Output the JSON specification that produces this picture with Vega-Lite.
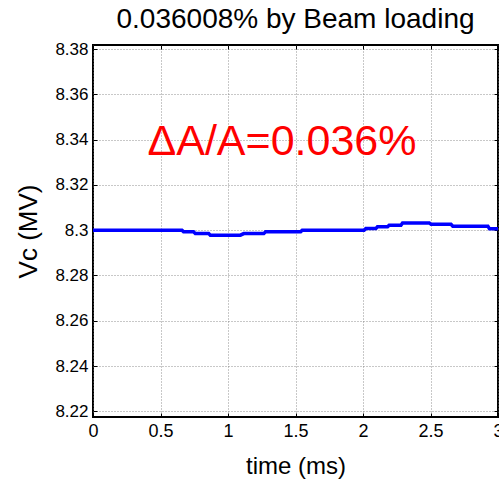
{
  "$schema": "https://vega.github.io/schema/vega-lite/v6.json",
  "width": 405,
  "height": 372,
  "autosize": {"type": "none"},
  "padding": {"left": 93, "top": 45, "right": 1, "bottom": 63},
  "background": "white",
  "title": {"text": "0.036008% by Beam loading", "fontSize": 28, "fontWeight": "normal", "font": "Liberation Sans", "color": "black", "anchor": "middle", "offset": 6},
  "config": {
    "view": {"stroke": "black", "strokeWidth": 2},
    "axis": {
      "labelFont": "Liberation Sans", "labelFontSize": 17, "labelColor": "black",
      "titleFont": "Liberation Sans", "titleFontSize": 24, "titleFontWeight": "normal", "titleColor": "black",
      "grid": true, "gridColor": "#777777", "gridDash": [1, 2], "gridWidth": 1, "gridOpacity": 0.8,
      "domain": false, "tickColor": "black", "tickSize": -4, "tickWidth": 1
    }
  },
  "datasets": {
    "vc": [
      {"t": 0.0, "v": 8.3000},
      {"t": 0.659, "v": 8.3000},
      {"t": 0.671, "v": 8.2993},
      {"t": 0.745, "v": 8.2993},
      {"t": 0.758, "v": 8.2985},
      {"t": 0.857, "v": 8.2985},
      {"t": 0.869, "v": 8.2978},
      {"t": 1.092, "v": 8.2978},
      {"t": 1.117, "v": 8.2985},
      {"t": 1.265, "v": 8.2985},
      {"t": 1.278, "v": 8.2993},
      {"t": 1.538, "v": 8.2993},
      {"t": 1.550, "v": 8.3000},
      {"t": 2.008, "v": 8.3000},
      {"t": 2.021, "v": 8.3007},
      {"t": 2.095, "v": 8.3007},
      {"t": 2.107, "v": 8.3015},
      {"t": 2.182, "v": 8.3015},
      {"t": 2.194, "v": 8.3022},
      {"t": 2.281, "v": 8.3022},
      {"t": 2.293, "v": 8.3032},
      {"t": 2.491, "v": 8.3032},
      {"t": 2.504, "v": 8.3026},
      {"t": 2.652, "v": 8.3026},
      {"t": 2.665, "v": 8.3018},
      {"t": 2.925, "v": 8.3018},
      {"t": 2.937, "v": 8.3006},
      {"t": 3.0, "v": 8.3006}
    ],
    "note": [{"t": 1.40, "v": 8.333, "label": "ΔA/A=0.036%"}]
  },
  "layer": [
    {
      "data": {"name": "vc"},
      "mark": {"type": "line", "color": "#0000FF", "strokeWidth": 3.5, "clip": true},
      "encoding": {
        "x": {"field": "t", "type": "quantitative", "scale": {"domain": [0, 3], "nice": false, "zero": false},
              "axis": {"orient": "bottom", "title": "time (ms)", "labelFontSize": 18, "values": [0, 0.5, 1, 1.5, 2, 2.5, 3], "format": "~g", "labelPadding": 9, "titlePadding": 14, "labelBound": false, "labelFlush": false}},
        "y": {"field": "v", "type": "quantitative", "scale": {"domain": [8.2175, 8.3818], "nice": false, "zero": false},
              "axis": {"orient": "left", "title": "Vc (MV)", "titleFontSize": 26, "values": [8.22, 8.24, 8.26, 8.28, 8.30, 8.32, 8.34, 8.36, 8.38], "format": ".2~f", "labelPadding": 9, "titlePadding": 13}}
      }
    },
    {
      "data": {"name": "vc"},
      "mark": {"type": "line", "opacity": 0},
      "encoding": {
        "x": {"field": "t", "type": "quantitative", "axis": {"orient": "top", "title": null, "labels": false, "grid": false, "values": [0, 0.5, 1, 1.5, 2, 2.5, 3]}},
        "y": {"field": "v", "type": "quantitative", "axis": {"orient": "right", "title": null, "labels": false, "grid": false, "values": [8.22, 8.24, 8.26, 8.28, 8.30, 8.32, 8.34, 8.36, 8.38]}}
      }
    },
    {
      "data": {"name": "note"},
      "mark": {"type": "text", "color": "#FF0000", "font": "Liberation Sans", "fontSize": 43, "align": "center", "baseline": "alphabetic"},
      "encoding": {
        "x": {"field": "t", "type": "quantitative", "axis": null},
        "y": {"field": "v", "type": "quantitative", "axis": null},
        "text": {"field": "label"}
      }
    }
  ],
  "resolve": {"axis": {"x": "independent", "y": "independent"}}
}
